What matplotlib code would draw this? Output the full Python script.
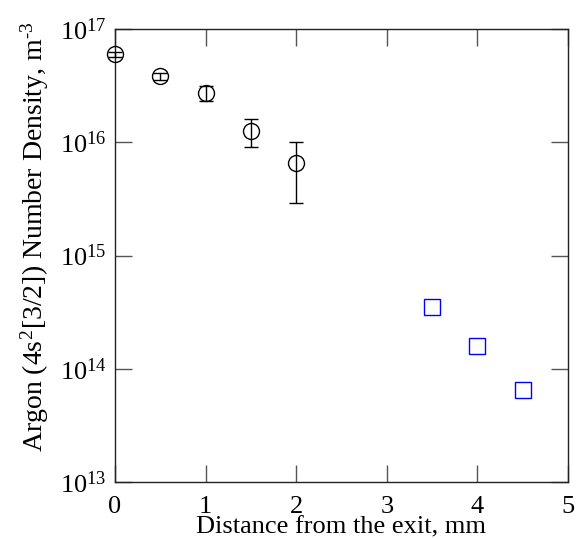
import matplotlib
matplotlib.use('Agg')
import matplotlib.pyplot as plt
from matplotlib.ticker import LogLocator, LogFormatterMathtext, NullLocator

plt.rcParams['font.family'] = 'Liberation Serif'
plt.rcParams['mathtext.fontset'] = 'stix'

# Measured densities (circles, with error bars)
dist_meas = [0.0, 0.5, 1.0, 1.5, 2.0]
dens_meas = [6.0e16, 3.85e16, 2.72e16, 1.26e16, 6.5e15]
dens_lo = [5.7e16, 3.55e16, 2.3e16, 9.0e15, 2.9e15]
dens_hi = [6.3e16, 4.1e16, 3.14e16, 1.6e16, 1.0e16]

# Estimated densities further downstream (squares)
dist_est = [3.5, 4.0, 4.5]
dens_est = [3.5e14, 1.6e14, 6.5e13]

fig = plt.figure(figsize=(5.79, 5.39), dpi=100)
ax = fig.add_axes([115 / 579, 57 / 539, 453 / 579, 453 / 539])

yerr = [[m - lo for m, lo in zip(dens_meas, dens_lo)],
        [hi - m for m, hi in zip(dens_meas, dens_hi)]]
ax.errorbar(dist_meas, dens_meas, yerr=yerr, fmt='o', mfc='none', mec='black',
            ms=11.5, mew=1.0, ecolor='black', elinewidth=1.0, capsize=5,
            capthick=1.0, clip_on=False, zorder=3)
ax.plot(dist_est, dens_est, 's', mfc='none', mec='#0000ff', ms=11.5, mew=1.0,
        clip_on=False, zorder=3)

ax.set_yscale('log')
ax.set_xlim(0, 5)
ax.set_ylim(1e13, 1e17)
ax.set_xticks([0, 1, 2, 3, 4, 5])
ax.yaxis.set_major_locator(LogLocator(base=10, numticks=10))
ax.yaxis.set_major_formatter(LogFormatterMathtext())
ax.yaxis.set_minor_locator(NullLocator())

ax.tick_params(which='major', direction='in', length=12, width=1.0,
               color='#555555', top=True, right=True, labelsize=19, pad=6)
ax.tick_params(axis='x', pad=10)
for sp in ax.spines.values():
    sp.set_linewidth(1.0)
    sp.set_color('#222222')

ax.set_xlabel('Distance from the exit, mm', fontsize=19, labelpad=-1)
ax.set_ylabel(r'Argon (4s$^{\mathdefault{2}}$[3/2]) Number Density, m$^{\text{-}\mathdefault{3}}$',
              fontsize=20)
ax.yaxis.set_label_coords(-0.142, 0.541)

fig.savefig('out.png', dpi=100, facecolor='white')
